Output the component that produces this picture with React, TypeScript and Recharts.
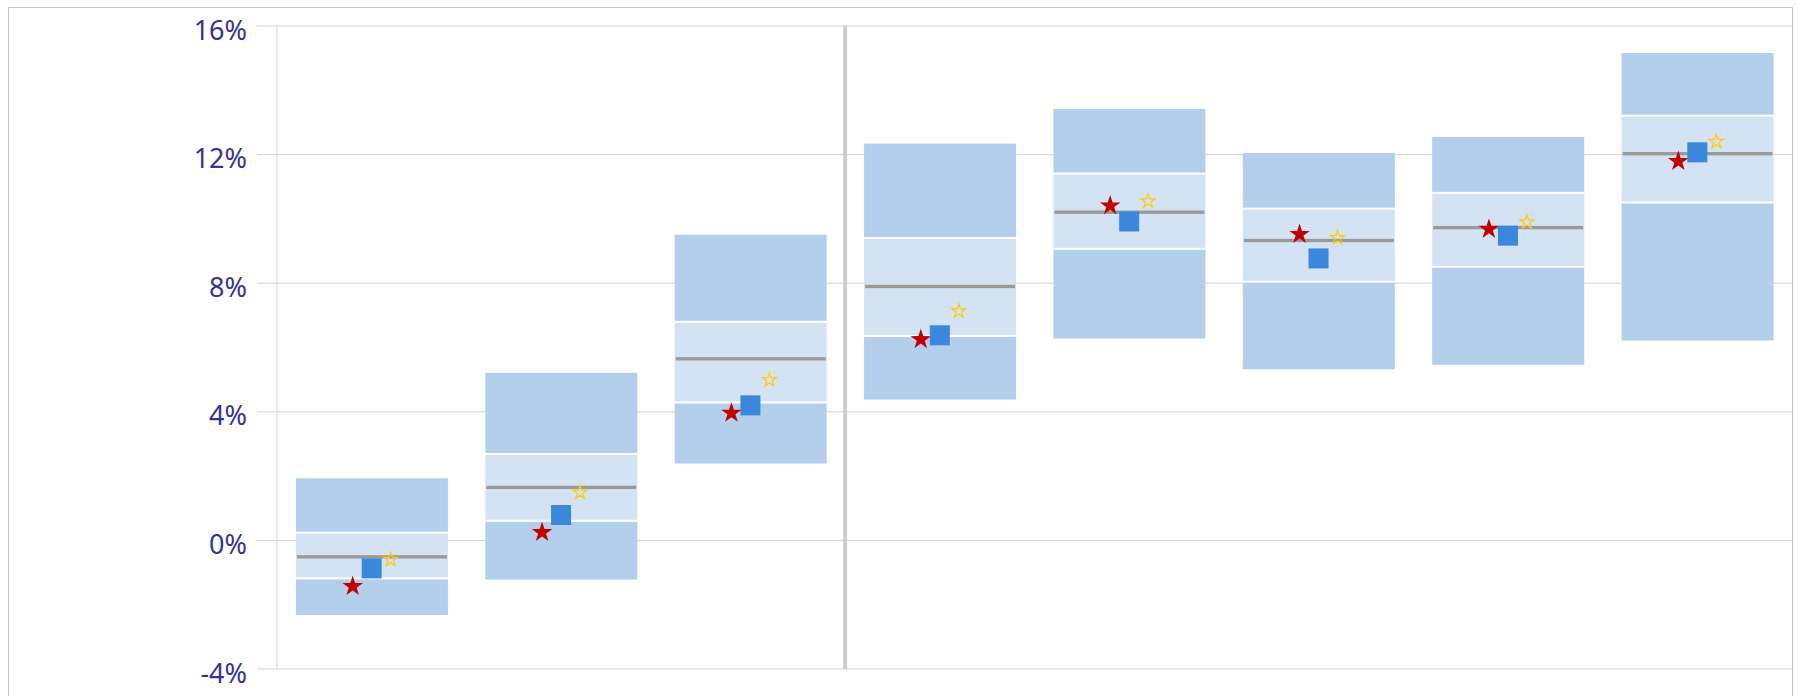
import {
  ComposedChart,
  Bar,
  Scatter,
  XAxis,
  YAxis,
  CartesianGrid,
  ReferenceLine,
} from 'recharts';

const categories = ['G1', 'G2', 'G3', 'G4', 'G5', 'G6', 'G7', 'G8'];
const lowValues = [-2.32, -1.22, 2.39, 4.38, 6.28, 5.32, 5.46, 6.22];
const q1Values = [-1.18, 0.61, 4.29, 6.36, 9.07, 8.05, 8.51, 10.51];
const medianValues = [-0.51, 1.65, 5.65, 7.9, 10.21, 9.33, 9.73, 12.03];
const q3Values = [0.24, 2.69, 6.8, 9.41, 11.41, 10.32, 10.81, 13.21];
const highValues = [1.93, 5.21, 9.51, 12.34, 13.42, 12.05, 12.55, 15.16];
const squareValues = [-0.87, 0.79, 4.2, 6.38, 9.92, 8.77, 9.48, 12.07];
const redStarValues = [-1.43, 0.25, 3.96, 6.25, 10.41, 9.52, 9.68, 11.79];
const yellowStarValues = [-0.6, 1.49, 4.99, 7.13, 10.55, 9.41, 9.9, 12.4];
const yTicks = [-4, 0, 4, 8, 12, 16];
// the divider sits after this category
const splitAfter = 'G3';

const OUTER = '#b4cfec';
const INNER = '#d4e3f3';
const MEDIAN = '#999999';
const GRID = '#d4d4d4';
const LABEL = '#333399';
const FRAME = '#c4c4c4';

const data = categories.map((name, i) => ({
  name,
  base: lowValues[i],
  lowSeg: q1Values[i] - lowValues[i],
  innerLow: medianValues[i] - q1Values[i],
  innerHigh: q3Values[i] - medianValues[i],
  highSeg: highValues[i] - q3Values[i],
  square: squareValues[i],
  red: redStarValues[i],
  yellow: yellowStarValues[i],
}));

function starPath(cx: number, cy: number, r: number) {
  const inner = r * 0.382;
  const pts: string[] = [];
  for (let k = 0; k < 10; k++) {
    const rad = k % 2 === 0 ? r : inner;
    const a = -Math.PI / 2 + (k * Math.PI) / 5;
    pts.push(`${(cx + rad * Math.cos(a)).toFixed(2)},${(cy + rad * Math.sin(a)).toFixed(2)}`);
  }
  return `M${pts.join('L')}Z`;
}

const EmptyShape = () => <g />;

const LowShape = (p: any) => <rect x={p.x} y={p.y} width={p.width} height={p.height} fill={OUTER} />;

const InnerLowShape = (p: any) => (
  <g>
    <rect x={p.x} y={p.y} width={p.width} height={p.height} fill={INNER} />
    <rect x={p.x} y={p.y + p.height - 1} width={p.width} height={2} fill="#ffffff" />
  </g>
);

const InnerHighShape = (p: any) => (
  <g>
    <rect x={p.x} y={p.y} width={p.width} height={p.height} fill={INNER} />
    <rect x={p.x + 1} y={p.y + p.height - 1.6} width={p.width - 2} height={3.3} fill={MEDIAN} />
  </g>
);

const HighShape = (p: any) => (
  <g>
    <rect x={p.x} y={p.y} width={p.width} height={p.height} fill={OUTER} />
    <rect x={p.x} y={p.y + p.height - 1} width={p.width} height={2} fill="#ffffff" />
  </g>
);

const RedStar = (p: any) => <path d={starPath(p.cx - 19, p.cy, 10.8)} fill="#c00000" />;
const YellowStar = (p: any) => (
  <path d={starPath(p.cx + 19, p.cy, 7.4)} fill="none" stroke="#ffcc00" strokeWidth={1.2} />
);
const Square = (p: any) => <rect x={p.cx - 10} y={p.cy - 10} width={20} height={20} fill="#3a87dc" />;

const YTick = (p: any) => (
  <text
    x={p.x}
    y={p.y}
    dy={13.5}
    textAnchor="end"
    fill={LABEL}
    fontSize={27}
    fontFamily="'Noto Sans', sans-serif"
  >
    {`${p.payload.value}%`}
  </text>
);

export default function App() {
  return (
    <div
      style={{
        position: 'absolute',
        left: 8,
        top: 7,
        width: 1783,
        height: 688,
        borderTop: `1px solid ${FRAME}`,
        borderLeft: `1px solid ${FRAME}`,
        borderRight: `1px solid ${FRAME}`,
        background: '#ffffff',
      }}
    >
      <ComposedChart
        width={1783}
        height={687}
        data={data}
        margin={{ top: 18, right: 0, bottom: 26, left: 0 }}
        barCategoryGap="10%"
      >
        <CartesianGrid horizontal vertical={false} stroke={GRID} />
        <XAxis dataKey="name" hide />
        <YAxis
          type="number"
          domain={[-4, 16]}
          ticks={yTicks}
          width={268}
          tickSize={20}
          tickMargin={10}
          axisLine={{ stroke: GRID }}
          tickLine={{ stroke: GRID }}
          tick={<YTick />}
          interval={0}
        />
        <ReferenceLine x={splitAfter} position="end" stroke="#cccccc" strokeWidth={4} />
        <Bar dataKey="base" stackId="box" shape={<EmptyShape />} isAnimationActive={false} />
        <Bar dataKey="lowSeg" stackId="box" shape={<LowShape />} isAnimationActive={false} />
        <Bar dataKey="innerLow" stackId="box" shape={<InnerLowShape />} isAnimationActive={false} />
        <Bar dataKey="innerHigh" stackId="box" shape={<InnerHighShape />} isAnimationActive={false} />
        <Bar dataKey="highSeg" stackId="box" shape={<HighShape />} isAnimationActive={false} />
        <Scatter dataKey="red" shape={<RedStar />} isAnimationActive={false} />
        <Scatter dataKey="square" shape={<Square />} isAnimationActive={false} />
        <Scatter dataKey="yellow" shape={<YellowStar />} isAnimationActive={false} />
      </ComposedChart>
    </div>
  );
}
